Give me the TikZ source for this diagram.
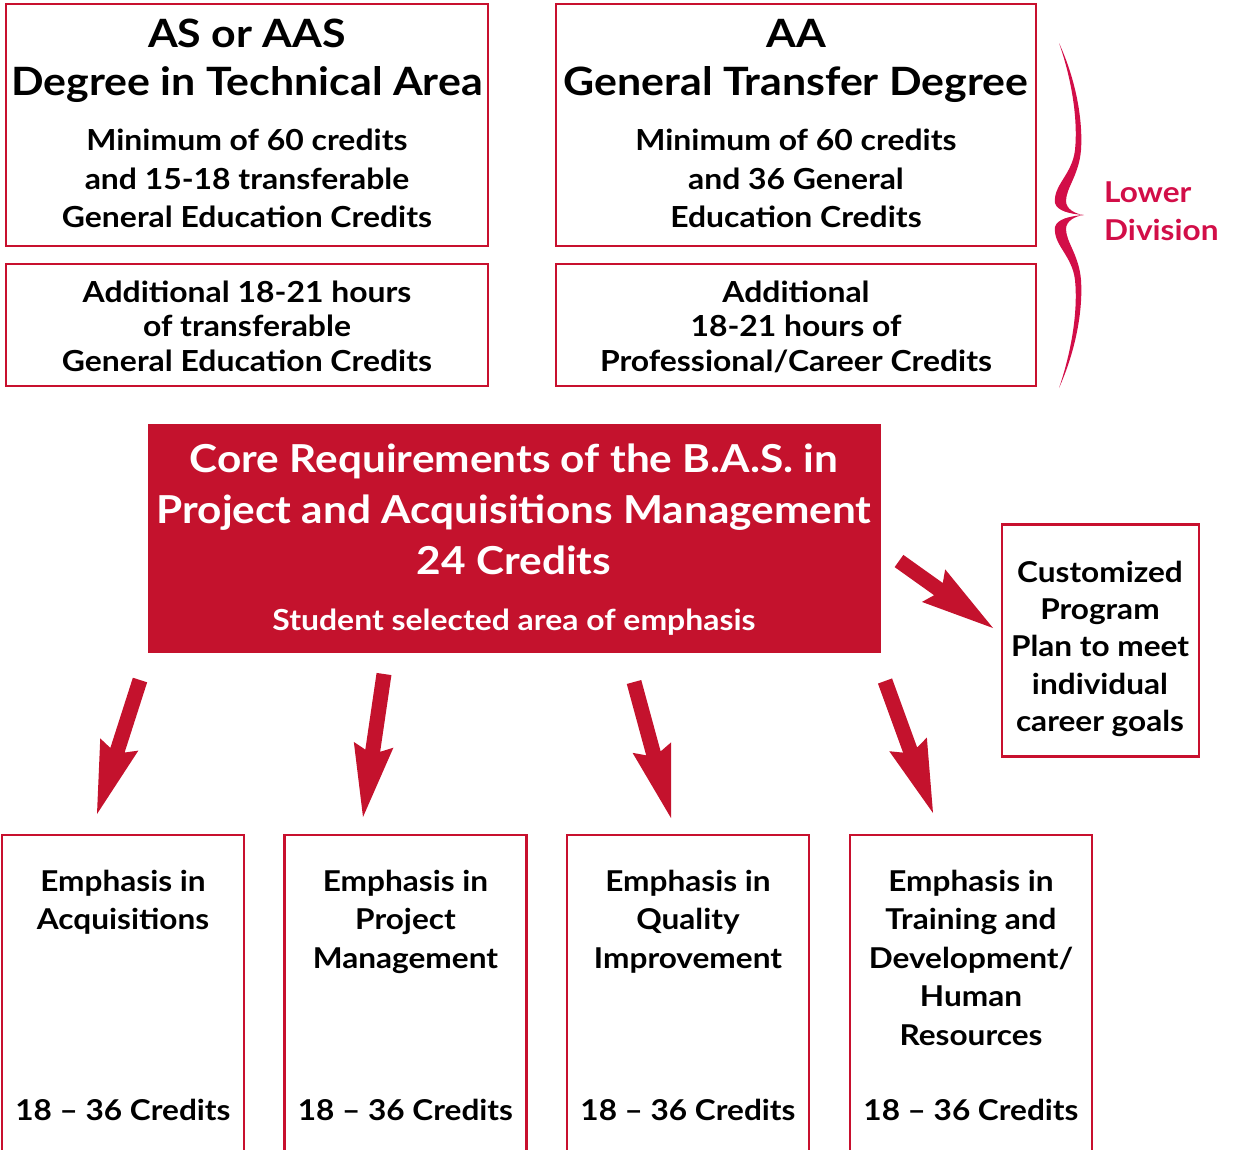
\documentclass[tikz,border=0pt]{standalone}
\usepackage{fontspec}
\setmainfont{Lato}[FakeStretch=1.1]
\usetikzlibrary{calc}
\definecolor{bred}{RGB}{200,16,46}
\definecolor{cred}{RGB}{196,18,45}
\definecolor{brc}{RGB}{210,14,72}
\newcommand\fTitle{\fontsize{39}{44}\selectfont\bfseries}
\newcommand\fBody{\fontsize{29}{34}\selectfont\bfseries}
\newcommand\fCore{\fontsize{38.5}{44}\selectfont\bfseries}
\newcommand\fCoreSub{\fontsize{29}{34}\selectfont\bfseries}
\newcommand\fCust{\fontsize{28.7}{34}\selectfont\bfseries}
\newcommand\fBot{\fontsize{28.7}{34}\selectfont\bfseries}
\newcommand\fLow{\fontsize{28.7}{34}\selectfont\bfseries}
\newcommand\blkarrow[2]{%
  \coordinate (t1) at ($(#1)!7.5pt!90:(#2)$);
  \coordinate (t2) at ($(#1)!7.5pt!-90:(#2)$);
  \coordinate (jj) at ($(#2)!67pt!(#1)$);
  \coordinate (bb) at ($(#2)!73pt!(#1)$);
  \coordinate (j1) at ($(jj)!7.5pt!90:(#2)$);
  \coordinate (j2) at ($(jj)!7.5pt!-90:(#2)$);
  \coordinate (b1) at ($(bb)!20pt!90:(#2)$);
  \coordinate (b2) at ($(bb)!20pt!-90:(#2)$);
  \fill[cred] (t1) -- (j1) -- (b1) -- (#2) -- (b2) -- (j2) -- (t2) -- cycle;}
\begin{document}
\begin{tikzpicture}[x=1pt,y=-1pt,
  box/.style={draw=bred, line width=2.5pt, inner sep=0pt},
  ln/.style={anchor=base, inner sep=0pt}]
\useasboundingbox (0,0) rectangle (1233,1149);
% top boxes
\node[box, minimum width=482pt, minimum height=242pt] (asbox) at (247,125) {};
\node[box, minimum width=480pt, minimum height=242pt] (aabox) at (796,125) {};
\node[box, minimum width=482pt, minimum height=122pt] (addl) at (247,325) {};
\node[box, minimum width=480pt, minimum height=122pt] (addr) at (796,325) {};
% texts box 1
\node[ln, font=\fTitle] (as1) at (247,47) {AS or AAS};
\node[ln, font=\fTitle] (as2) at (247,95) {Degree in Technical Area};
\node[ln, font=\fBody] (as3) at (247,150) {Minimum of 60 credits};
\node[ln, font=\fBody] (as4) at (247,189) {and 15-18 transferable};
\node[ln, font=\fBody] (as5) at (247,227) {General Education Credits};
% texts box 2
\node[ln, font=\fTitle] (aa1) at (796,47) {AA};
\node[ln, font=\fTitle] (aa2) at (796,95) {General Transfer Degree};
\node[ln, font=\fBody] (aa3) at (796,150) {Minimum of 60 credits};
\node[ln, font=\fBody] (aa4) at (796,189) {and 36 General};
\node[ln, font=\fBody] (aa5) at (796,227) {Education Credits};
% box 3
\node[ln, font=\fBody] (ad1) at (247,302) {Additional 18-21 hours};
\node[ln, font=\fBody] (ad2) at (247,336) {of transferable};
\node[ln, font=\fBody] (ad3) at (247,371) {General Education Credits};
% box 4
\node[ln, font=\fBody] (ae1) at (796,302) {Additional};
\node[ln, font=\fBody] (ae2) at (796,336) {18-21 hours of};
\node[ln, font=\fBody] (ae3) at (796,371) {Professional/Career Credits};
% brace
\fill[brc] (1059,43) .. controls (1072,80) and (1078,120) .. (1075,150)
  .. controls (1072,175) and (1053,185) .. (1055,203)
  .. controls (1057,211) and (1070,214) .. (1084,215)
  .. controls (1070,216) and (1057,219) .. (1055,227)
  .. controls (1053,245) and (1072,255) .. (1075,280)
  .. controls (1078,310) and (1072,350) .. (1059,388)
  .. controls (1076,350) and (1083,310) .. (1081,280)
  .. controls (1079,255) and (1066,242) .. (1066,229)
  .. controls (1066,221) and (1075,216) .. (1084,215)
  .. controls (1075,214) and (1066,209) .. (1066,201)
  .. controls (1066,188) and (1079,175) .. (1081,150)
  .. controls (1083,120) and (1076,80) .. (1059,43) -- cycle;
\node[ln, font=\fLow, text=brc, anchor=base west] (low1) at (1104,202) {Lower};
\node[ln, font=\fLow, text=brc, anchor=base west] (low2) at (1104,240) {Division};
% core box
\node[fill=cred, minimum width=733pt, minimum height=229pt, inner sep=0pt] (core) at (514.5,538.5) {};
\node[ln, font=\fCore, text=white] (c1) at (514,472) {Core Requirements of the B.A.S. in};
\node[ln, font=\fCore, text=white] (c2) at (514,523) {Project and Acquisitions Management};
\node[ln, font=\fCore, text=white] (c3) at (514,574) {24 Credits};
\node[ln, font=\fCoreSub, text=white] (c4) at (514,630) {Student selected area of emphasis};
% customized box
\node[box, minimum width=197pt, minimum height=232pt] (cust) at (1100.5,640.5) {};
\node[ln, font=\fCust] (cu1) at (1100,582) {Customized};
\node[ln, font=\fCust] (cu2) at (1100,619) {Program};
\node[ln, font=\fCust] (cu3) at (1100,656) {Plan to meet};
\node[ln, font=\fCust] (cu4) at (1100,694) {individual};
\node[ln, font=\fCust] (cu5) at (1100,731) {career goals};
% bottom boxes
\node[box, minimum width=242pt, minimum height=330pt] (e1) at (123,1000) {};
\node[box, minimum width=242pt, minimum height=330pt] (e2) at (405.5,1000) {};
\node[box, minimum width=242pt, minimum height=330pt] (e3) at (688,1000) {};
\node[box, minimum width=242pt, minimum height=330pt] (e4) at (971,1000) {};
\node[ln, font=\fBot] (e1a) at (123,891) {Emphasis in};
\node[ln, font=\fBot] (e1b) at (123,929.5) {Acquisitions};
\node[ln, font=\fBot] (e1c) at (123,1120) {18 -- 36 Credits};
\node[ln, font=\fBot] (e2a) at (405.5,891) {Emphasis in};
\node[ln, font=\fBot] (e2b) at (405.5,929.5) {Project};
\node[ln, font=\fBot] (e2c) at (405.5,968) {Management};
\node[ln, font=\fBot] (e2d) at (405.5,1120) {18 -- 36 Credits};
\node[ln, font=\fBot] (e3a) at (688,891) {Emphasis in};
\node[ln, font=\fBot] (e3b) at (688,929.5) {Quality};
\node[ln, font=\fBot] (e3c) at (688,968) {Improvement};
\node[ln, font=\fBot] (e3d) at (688,1120) {18 -- 36 Credits};
\node[ln, font=\fBot] (e4a) at (971,891) {Emphasis in};
\node[ln, font=\fBot] (e4b) at (971,929.5) {Training and};
\node[ln, font=\fBot] (e4c) at (971,968) {Development/};
\node[ln, font=\fBot] (e4d) at (971,1006.5) {Human};
\node[ln, font=\fBot] (e4e) at (971,1045) {Resources};
\node[ln, font=\fBot] (e4f) at (971,1120) {18 -- 36 Credits};
% arrows
\coordinate (a1s) at (140,680); \coordinate (a1e) at (97,814);
\coordinate (a2s) at (384,674); \coordinate (a2e) at (363,817);
\coordinate (a3s) at (634,682); \coordinate (a3e) at (671,818);
\coordinate (a4s) at (885,681); \coordinate (a4e) at (933,813);
\coordinate (a5s) at (899,561); \coordinate (a5e) at (993,628);
\blkarrow{a1s}{a1e}
\blkarrow{a2s}{a2e}
\blkarrow{a3s}{a3e}
\blkarrow{a4s}{a4e}
\blkarrow{a5s}{a5e}
\end{tikzpicture}
\end{document}
